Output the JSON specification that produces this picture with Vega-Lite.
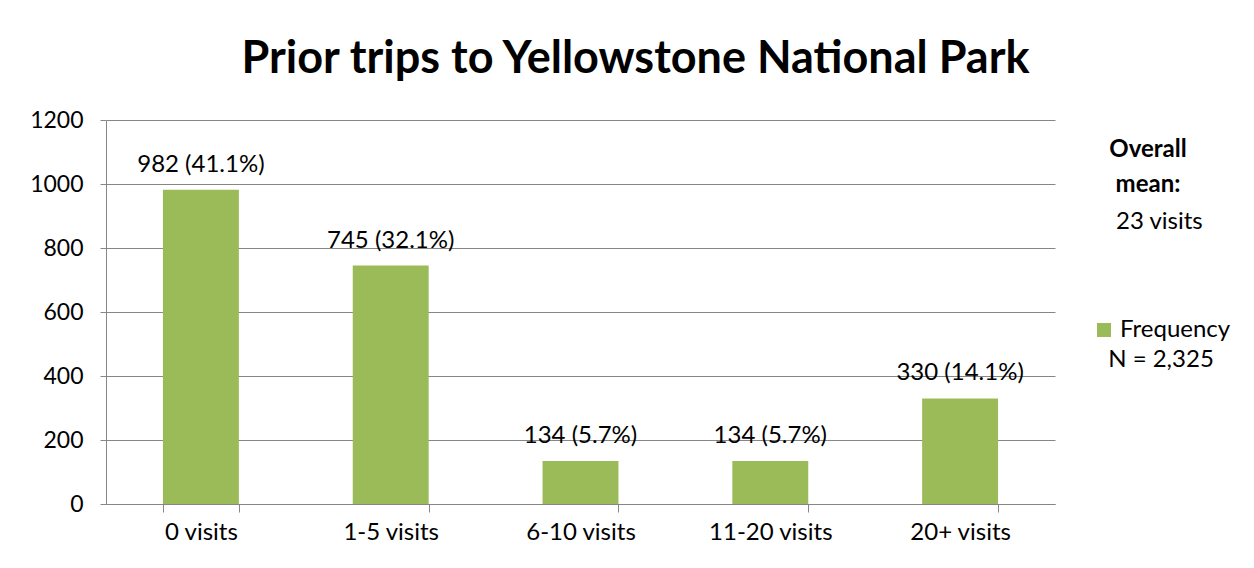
{
  "$schema": "https://vega.github.io/schema/vega-lite/v6.json",
  "width": 949,
  "height": 384,
  "autosize": {"type": "none"},
  "padding": {"left": 106, "top": 120, "right": 199, "bottom": 64},
  "background": "white",
  "title": {
    "text": "Prior trips to Yellowstone National Park",
    "font": "Lato",
    "fontSize": 45,
    "fontWeight": "bold",
    "color": "black",
    "anchor": "middle",
    "dx": 55,
    "offset": 27
  },
  "data": {
    "values": [
      {"cat": "0 visits", "count": 982, "label": "982 (41.1%)"},
      {"cat": "1-5 visits", "count": 745, "label": "745 (32.1%)"},
      {"cat": "6-10 visits", "count": 134, "label": "134 (5.7%)"},
      {"cat": "11-20 visits", "count": 134, "label": "134 (5.7%)"},
      {"cat": "20+ visits", "count": 330, "label": "330 (14.1%)"}
    ]
  },
  "encoding": {
    "x": {
      "field": "cat",
      "type": "nominal",
      "sort": null,
      "scale": {"paddingInner": 0.6, "paddingOuter": 0.3},
      "axis": {
        "title": null,
        "labelAngle": 0,
        "tickBand": "extent",
        "tickSize": 8,
        "tickColor": "#868686",
        "domainColor": "#868686",
        "labelFont": "Lato",
        "labelFontSize": 24,
        "labelColor": "black",
        "labelPadding": 8,
        "grid": false
      }
    },
    "y": {
      "field": "count",
      "type": "quantitative",
      "scale": {"domain": [0, 1200], "nice": false},
      "axis": {
        "title": null,
        "values": [0, 200, 400, 600, 800, 1000, 1200],
        "format": "d",
        "tickSize": 6,
        "tickColor": "#868686",
        "domainColor": "#868686",
        "grid": true,
        "gridColor": "#868686",
        "labelFont": "Lato",
        "labelFontSize": 23,
        "labelColor": "black",
        "labelPadding": 17
      }
    }
  },
  "layer": [
    {
      "mark": {"type": "bar"},
      "encoding": {
        "color": {
          "datum": "Frequency",
          "scale": {"range": ["#9BBB59"]},
          "legend": {
            "orient": "none",
            "legendX": 986,
            "legendY": 198,
            "symbolType": "square",
            "symbolSize": 196,
            "symbolStrokeWidth": 0,
            "labelFont": "Lato",
            "labelFontSize": 24,
            "labelColor": "black",
            "labelOffset": 4,
            "title": "N = 2,325",
            "titleOrient": "bottom",
            "titleAnchor": "middle",
            "titleAlign": "center",
            "titleFont": "Lato",
            "titleFontSize": 24,
            "titleFontWeight": "normal",
            "titleColor": "black",
            "titlePadding": 6
          }
        },
        "opacity": {
          "datum": "23 visits",
          "type": "nominal",
          "scale": {"range": [1]},
          "legend": {
            "orient": "none",
            "legendX": 986,
            "legendY": 18,
            "symbolSize": 0,
            "symbolOpacity": 0,
            "labelOffset": 0,
            "labelFont": "Lato",
            "labelFontSize": 24,
            "labelColor": "black",
            "title": ["Overall", "mean:"],
            "titleAnchor": "middle",
            "titleAlign": "center",
            "titleFont": "Lato",
            "titleFontSize": 24,
            "titleFontWeight": "bold",
            "titleColor": "black",
            "titleLineHeight": 35,
            "titlePadding": 13
          }
        }
      }
    },
    {
      "mark": {"type": "text", "baseline": "alphabetic", "dy": -18, "font": "Lato", "fontSize": 24, "color": "black"},
      "encoding": {"text": {"field": "label"}}
    }
  ],
  "config": {"view": {"stroke": null}}
}
